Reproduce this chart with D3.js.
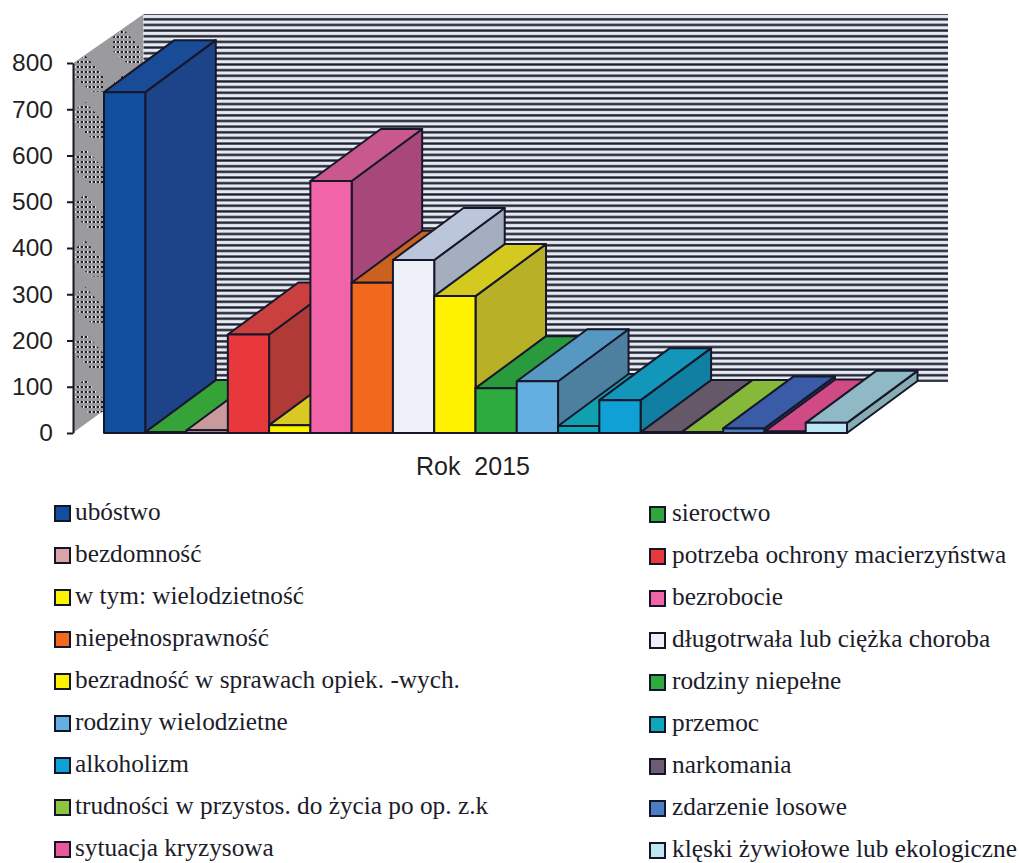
<!DOCTYPE html>
<html>
<head>
<meta charset="utf-8">
<script src="https://cdn.jsdelivr.net/npm/d3@7"></script>
<style>
html, body { margin: 0; background: #fff; }
svg { display: block; }
</style>
</head>
<body>
<div id="chart"></div>
<script>
// data
var categories = ['ubóstwo', 'sieroctwo', 'bezdomność', 'potrzeba ochrony macierzyństwa',
    'w tym: wielodzietność', 'bezrobocie', 'niepełnosprawność', 'długotrwała lub ciężka choroba',
    'bezradność w sprawach opiek. -wych.', 'rodziny niepełne', 'rodziny wielodzietne', 'przemoc',
    'alkoholizm', 'narkomania', 'trudności w przystos. do życia po op. z.k', 'zdarzenie losowe',
    'sytuacja kryzysowa', 'klęski żywiołowe lub ekologiczne']
var values = [737, 2, 6, 213, 17, 545, 325, 374, 296, 97, 112, 15, 71, 2, 2, 10, 3, 22]
var yTicks = [0, 100, 200, 300, 400, 500, 600, 700, 800]
var axisTitle = 'Rok\u00a0\u00a02015'

var frontColors = ['#0f4f9e', '#2fa63c', '#d9a3a8', '#e8383c', '#fff200', '#f264a8', '#f2691e', '#eef0f8', '#fff200',
    '#2dab3f', '#63afe2', '#0ea6b8', '#0fa0d6', '#6b5c74', '#8cc63f', '#4a7dc2', '#e8589a', '#bde7f4']
var topColors = ['#1a4b96', '#36a338', '#c99a9c', '#c9403f', '#d9c922', '#c9588c', '#c9611f', '#bcc6da', '#d4c91f',
    '#2a9b3c', '#5798c2', '#10a0ae', '#1297bb', '#655868', '#86b83a', '#3a5ba6', '#d04b86', '#8fb9c4']
var sideColors = ['#1d4488', '#2b8a34', '#b08688', '#b03b36', '#bcb224', '#a8477a', '#ab521b', '#a5aebe', '#b8b026',
    '#258a36', '#4d809f', '#0e8c9a', '#107fa2', '#574a5a', '#74a032', '#314f90', '#b33f74', '#86aeb2']

var width = 1019,
    height = 863,
    depthX = 70.5,
    depthY = -52,
    wallDepthY = -49,
    outline = '#17172b'

var svg = d3.select('#chart')
    .append('svg')
    .attr('width', width)
    .attr('height', height)

// scales
var xscale = d3.scaleBand()
    .domain(categories)
    .range([104, 847])

var yscale = d3.scaleLinear()
    .domain([0, 800])
    .range([433, 63])

var axisX = 73

// wall patterns
var defs = svg.append('defs')

var stripes = defs.append('pattern')
    .attr('id', 'stripes')
    .attr('patternUnits', 'userSpaceOnUse')
    .attr('width', 10)
    .attr('height', 5.65)
stripes.append('rect').attr('width', 10).attr('height', 5.65).attr('fill', '#e6eaee')
stripes.append('rect').attr('y', 1.2).attr('width', 10).attr('height', 2.3).attr('fill', '#181c30')

var dots = defs.append('pattern')
    .attr('id', 'dots')
    .attr('patternUnits', 'userSpaceOnUse')
    .attr('width', 4)
    .attr('height', 5)
dots.append('rect').attr('x', 1).attr('y', 1).attr('width', 2).attr('height', 2).attr('fill', '#1e1e24')
dots.append('rect').attr('x', 3).attr('y', 1).attr('width', 1).attr('height', 2).attr('fill', '#ececec')

var floorY = yscale(0),
    topY = yscale(800)

// back wall
svg.append('rect')
    .attr('x', axisX + depthX)
    .attr('y', topY + wallDepthY)
    .attr('width', 948 - axisX - depthX)
    .attr('height', floorY - topY - 2)
    .attr('fill', 'url(#stripes)')

// side wall
var sidePoints = [[axisX, topY], [axisX + depthX, topY + wallDepthY], [axisX + depthX, floorY + wallDepthY - 2], [axisX, floorY]]
defs.append('clipPath')
    .attr('id', 'sideclip')
    .append('polygon')
    .attr('points', sidePoints.join(' '))

var side = svg.append('g').attr('clip-path', 'url(#sideclip)')
side.append('polygon')
    .attr('points', sidePoints.join(' '))
    .attr('fill', '#9b9b9e')

// dotted patches hang under each gridline on the side wall
var patchStops = [0.03, 0.57]
var patchShape = [[0, 2], [10, -6], [28, 14], [28, 30], [16, 30], [0, 16]]
yTicks.forEach(t => {
    patchStops.forEach(s => {
        var ox = axisX + s * depthX
        var oy = yscale(t) + s * wallDepthY
        side.append('polygon')
            .attr('points', patchShape.map(p => [ox + p[0], oy + p[1]]).join(' '))
            .attr('fill', 'url(#dots)')
    })
})

// axis
var yaxis = d3.axisLeft(yscale)
    .tickValues(yTicks)
    .tickSize(6)
    .tickPadding(14)
    .tickSizeOuter(0)

var yg = svg.append('g')
    .attr('id', 'y-axis')
    .attr('transform', `translate(${axisX},0)`)
    .call(yaxis)
yg.selectAll('path, line').attr('stroke', '#1d1522').attr('stroke-width', 2)
yg.selectAll('text')
    .attr('font-family', '"Liberation Sans", Arial, sans-serif')
    .attr('font-size', 24.5)
    .attr('fill', '#1f1f24')

// draw bars, left to right so each one covers its neighbour's side
var bars = svg.selectAll('g.bar')
    .data(values)
    .enter()
    .append('g')
    .attr('class', 'bar')
    .attr('stroke', outline)
    .attr('stroke-width', 2)
    .attr('stroke-linejoin', 'round')

function barBox(d, i) {
    var x0 = xscale(categories[i])
    return { x0: x0, x1: x0 + xscale.bandwidth(), y0: yscale(d), y1: floorY }
}

bars.append('polygon')
    .attr('fill', (d, i) => sideColors[i])
    .attr('points', (d, i) => {
        var b = barBox(d, i)
        return [[b.x1, b.y0], [b.x1 + depthX, b.y0 + depthY], [b.x1 + depthX, b.y1 + depthY], [b.x1, b.y1]].join(' ')
    })

bars.append('polygon')
    .attr('fill', (d, i) => topColors[i])
    .attr('points', (d, i) => {
        var b = barBox(d, i)
        return [[b.x0, b.y0], [b.x1, b.y0], [b.x1 + depthX, b.y0 + depthY], [b.x0 + depthX, b.y0 + depthY]].join(' ')
    })

bars.append('rect')
    .attr('fill', (d, i) => frontColors[i])
    .attr('x', (d, i) => barBox(d, i).x0)
    .attr('y', (d, i) => barBox(d, i).y0)
    .attr('width', xscale.bandwidth())
    .attr('height', (d, i) => floorY - yscale(d))

// category label under the floor
svg.append('text')
    .attr('x', 473)
    .attr('y', 475)
    .attr('text-anchor', 'middle')
    .attr('font-family', '"Liberation Sans", Arial, sans-serif')
    .attr('font-size', 25)
    .attr('fill', '#1f1f24')
    .text(axisTitle)

// legend, two columns read row by row
var legendY = d3.scalePoint()
    .domain(d3.range(9))
    .range([520, 856])

var legend = svg.selectAll('g.legend')
    .data(categories)
    .enter()
    .append('g')
    .attr('class', 'legend')
    .attr('transform', (d, i) => {
        var col = i % 2
        var row = Math.floor(i / 2)
        return `translate(${col ? 650 : 55},${legendY(row) + (col ? 1 : 0)})`
    })

legend.append('rect')
    .attr('x', 0)
    .attr('y', -14)
    .attr('width', 15)
    .attr('height', 15)
    .attr('fill', (d, i) => frontColors[i])
    .attr('stroke', '#15152a')
    .attr('stroke-width', 2)

legend.append('text')
    .attr('x', (d, i) => i % 2 ? 22 : 20)
    .attr('y', 0)
    .attr('font-family', '"Liberation Serif", "Times New Roman", serif')
    .attr('font-size', 25.3)
    .attr('fill', '#1c1c2a')
    .text(d => d)
</script>
</body>
</html>
